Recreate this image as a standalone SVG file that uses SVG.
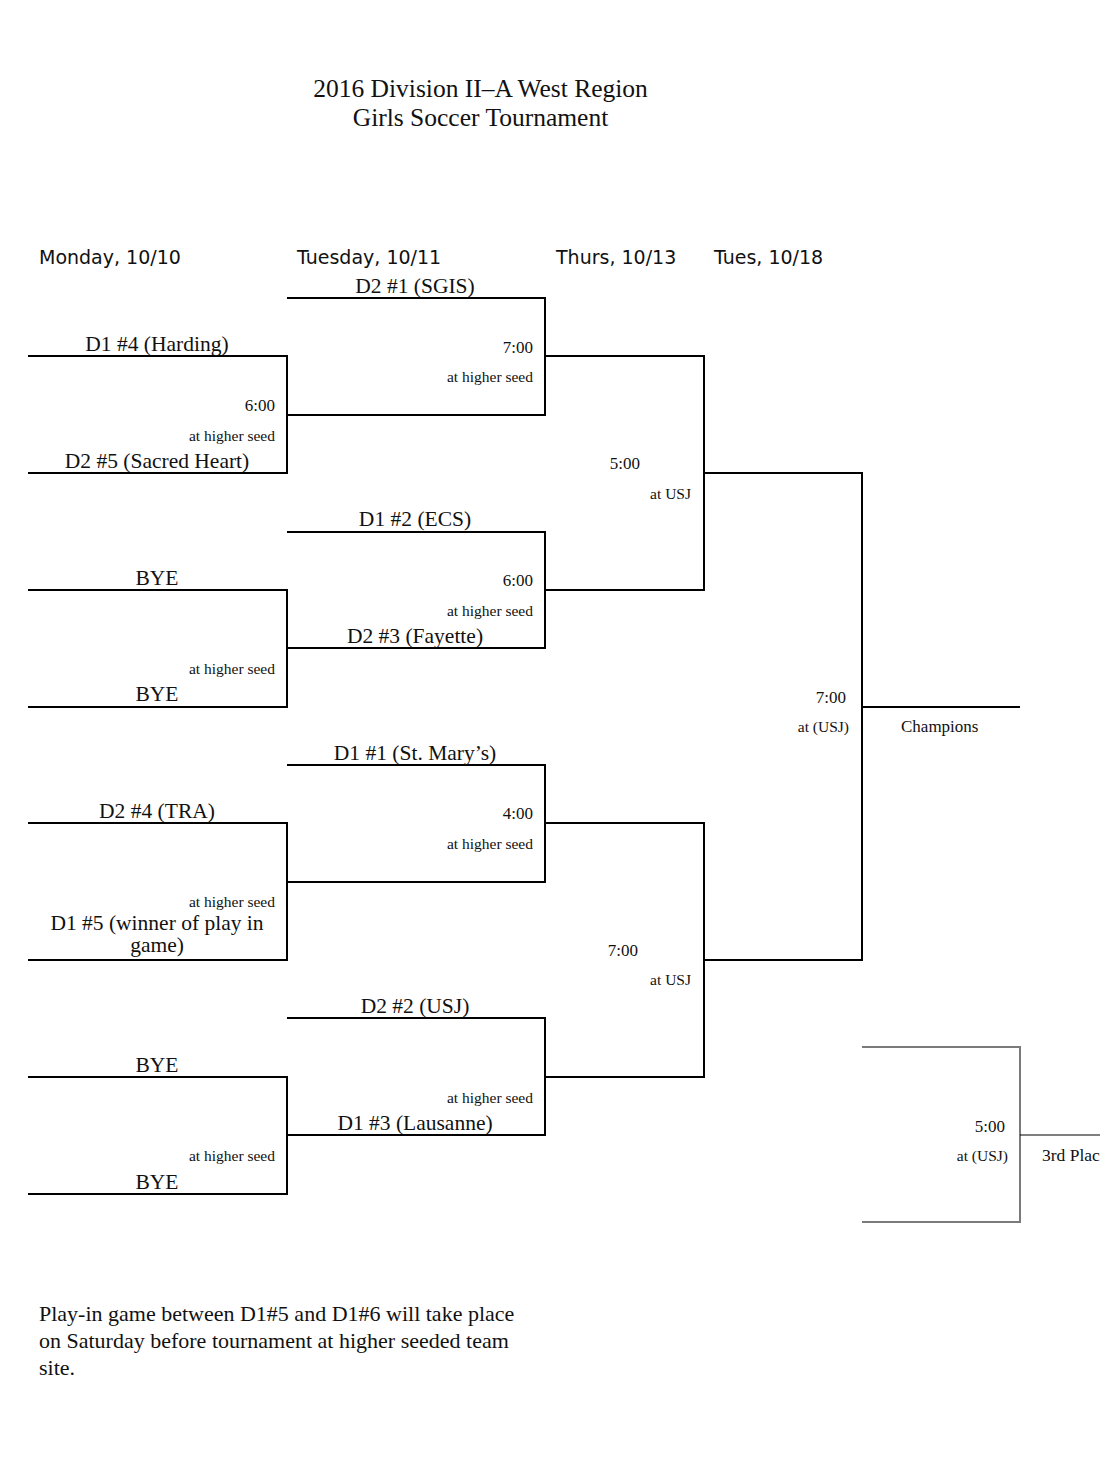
<svg xmlns="http://www.w3.org/2000/svg" width="1115" height="1484" viewBox="0 0 1115 1484">
<style>
.ln{stroke:#000;stroke-width:2;fill:none;stroke-linecap:square}
.gr{stroke:#7a7a7a;stroke-width:2;fill:none}
.th{stroke:#000;stroke-width:1.2;fill:none}
.t{font-family:"Liberation Serif","Times New Roman",serif;fill:#111}
.title{font-size:25.5px;text-anchor:middle}
.hd{font-family:"DejaVu Sans",Verdana,sans-serif;font-size:19px;fill:#111}
.team{font-size:21.5px;text-anchor:middle}
.tm{font-size:17px;text-anchor:end}
.sm{font-size:15.5px;text-anchor:end}
.note{font-size:22px}
</style>
<defs>
<clipPath id="cut"><rect x="0" y="0" width="1100" height="1484"/></clipPath>
</defs>
<rect width="1115" height="1484" fill="#fff"/>

<g id="title" class="t">
<text class="t title" x="480.5" y="97">2016 Division II–A West Region</text>
<text class="t title" x="480.5" y="126">Girls Soccer Tournament</text>
</g>

<g id="headers">
<text class="hd" x="39" y="264">Monday, 10/10</text>
<text class="hd" x="297" y="264">Tuesday, 10/11</text>
<text class="hd" x="556" y="264">Thurs, 10/13</text>
<text class="hd" x="714" y="264">Tues, 10/18</text>
</g>

<g id="connectors">
<path class="ln" d="M29 356H287V473H29"/>
<path class="ln" d="M29 590H287V707H29"/>
<path class="ln" d="M29 823H287V960H29"/>
<path class="ln" d="M29 1077H287V1194H29"/>
<path class="ln" d="M288 298H545V415H288"/>
<path class="ln" d="M288 532H545V648H288"/>
<path class="ln" d="M288 765H545V882H288"/>
<path class="ln" d="M288 1018H545V1135H288"/>
<path class="ln" d="M546 356H704V590H546"/>
<path class="ln" d="M546 823H704V1077H546"/>
<path class="ln" d="M705 473H862V960H705"/>
<path class="ln" d="M863 707H1019"/>
<path class="gr" d="M862 1047H1020V1222H862"/>
<path class="th" d="M1020 1135H1100"/>
</g>

<g id="r1m1">
<text class="t team" x="157" y="351">D1 #4 (Harding)</text>
<text class="t team" x="157" y="468">D2 #5 (Sacred Heart)</text>
<text class="t tm" x="275" y="411">6:00</text>
<text class="t sm" x="275" y="441">at higher seed</text>
</g>
<g id="r1m2">
<text class="t team" x="157" y="585">BYE</text>
<text class="t team" x="157" y="701">BYE</text>
<text class="t sm" x="275" y="674">at higher seed</text>
</g>
<g id="r1m3">
<text class="t team" x="157" y="818">D2 #4 (TRA)</text>
<text class="t sm" x="275" y="907">at higher seed</text>
<text class="t team" x="157" y="930">D1 #5 (winner of play in</text>
<text class="t team" x="157" y="952">game)</text>
</g>
<g id="r1m4">
<text class="t team" x="157" y="1072">BYE</text>
<text class="t team" x="157" y="1189">BYE</text>
<text class="t sm" x="275" y="1161">at higher seed</text>
</g>

<g id="r2m1">
<text class="t team" x="415" y="293">D2 #1 (SGIS)</text>
<text class="t tm" x="533" y="353">7:00</text>
<text class="t sm" x="533" y="382">at higher seed</text>
</g>
<g id="r2m2">
<text class="t team" x="415" y="526">D1 #2 (ECS)</text>
<text class="t tm" x="533" y="586">6:00</text>
<text class="t sm" x="533" y="616">at higher seed</text>
<text class="t team" x="415" y="643">D2 #3 (Fayette)</text>
</g>
<g id="r2m3">
<text class="t team" x="415" y="760">D1 #1 (St. Mary’s)</text>
<text class="t tm" x="533" y="819">4:00</text>
<text class="t sm" x="533" y="849">at higher seed</text>
</g>
<g id="r2m4">
<text class="t team" x="415" y="1013">D2 #2 (USJ)</text>
<text class="t sm" x="533" y="1103">at higher seed</text>
<text class="t team" x="415" y="1130">D1 #3 (Lausanne)</text>
</g>

<g id="r3m1">
<text class="t tm" x="640" y="469">5:00</text>
<text class="t sm" x="691" y="499">at USJ</text>
</g>
<g id="r3m2">
<text class="t tm" x="638" y="956">7:00</text>
<text class="t sm" x="691" y="985">at USJ</text>
</g>

<g id="final">
<text class="t tm" x="846" y="703">7:00</text>
<text class="t sm" x="849" y="732">at (USJ)</text>
<text class="t" x="901" y="732" font-size="17">Champions</text>
</g>

<g id="third">
<text class="t tm" x="1005" y="1132">5:00</text>
<text class="t sm" x="1008" y="1161">at (USJ)</text>
<text class="t" x="1042" y="1161" font-size="17.5" clip-path="url(#cut)">3rd Place</text>
</g>

<g id="note" class="t">
<text class="t note" x="39" y="1321">Play-in game between D1#5 and D1#6 will take place</text>
<text class="t note" x="39" y="1348">on Saturday before tournament at higher seeded team</text>
<text class="t note" x="39" y="1375">site.</text>
</g>
</svg>
